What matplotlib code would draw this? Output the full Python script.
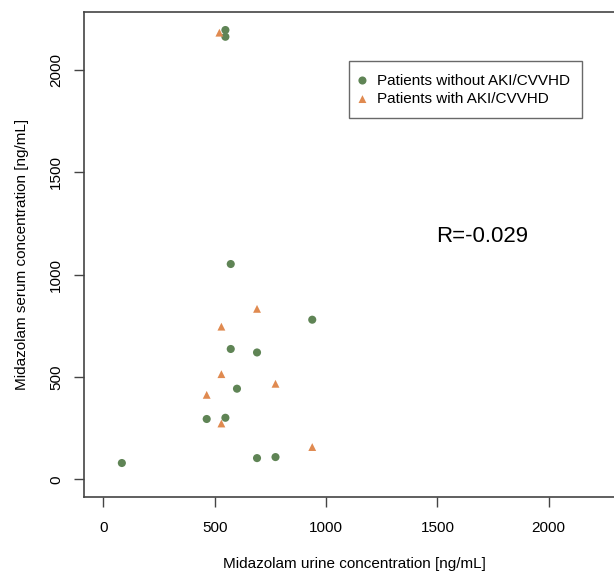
import numpy as np
from matplotlib import pyplot as plt

plt.rcParams['font.family'] = ['Liberation Sans', 'DejaVu Sans']

## patients without AKI/CVVHD
urine_no = [548, 548, 572, 938, 572, 690, 600, 464, 548, 690, 773, 83]
serum_no = [2195, 2162, 1052, 780, 637, 620, 443, 295, 301, 104, 109, 80]

## patients with AKI/CVVHD
urine_aki = [521, 690, 530, 530, 773, 464, 530, 938]
serum_aki = [2182, 833, 746, 514, 467, 413, 273, 158]

green = '#5f8455'
orange = '#e08a50'

fig = plt.figure(figsize=(6.14, 5.72), dpi=100)
ax = fig.add_axes([84/614, 75/572, 540/614, 485/572])

ax.scatter(urine_no, serum_no, s=34, marker='o', color=green, edgecolors='none',
           label='Patients without AKI/CVVHD', zorder=3)
ax.scatter(urine_aki, serum_aki, s=32, marker='^', color=orange, edgecolors='none',
           label='Patients with AKI/CVVHD', zorder=3)

ax.set_xlim(-87, 2338)
ax.set_ylim(-86, 2283)
ax.set_xticks([0, 500, 1000, 1500, 2000])
ax.set_yticks([0, 500, 1000, 1500, 2000])
ax.tick_params(axis='both', labelsize=11, length=7, width=1, color='#444444')
ax.tick_params(axis='x', pad=10)
ax.tick_params(axis='y', pad=8)
for lab in ax.get_yticklabels():
    lab.set_rotation(90)
    lab.set_va('center')

for sp in ['left', 'top', 'bottom']:
    ax.spines[sp].set_color('#444444')
    ax.spines[sp].set_linewidth(1.2)
ax.spines['right'].set_visible(False)

ax.set_xlabel('Midazolam urine concentration [ng/mL]', fontsize=11, labelpad=16)
ax.set_ylabel('Midazolam serum concentration [ng/mL]', fontsize=11, labelpad=14.5)

leg = ax.legend(loc='upper left', bbox_to_anchor=((348.7-84)/540, (497-61.3)/485),
                fontsize=11, frameon=True, fancybox=False, edgecolor='#444444',
                handletextpad=0.86, borderpad=0.8, labelspacing=0.3, handlelength=0.2,
                borderaxespad=0)
leg.get_frame().set_linewidth(1)

ax.text(1700, 1185, 'R=-0.029', fontsize=16, ha='center', va='center')

plt.savefig('out.png', dpi=100)
